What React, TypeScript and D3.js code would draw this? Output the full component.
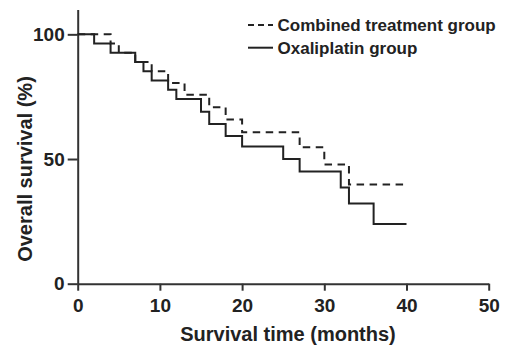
import React, { useEffect, useRef } from 'react';
import * as d3 from 'd3';

// Kaplan-Meier steps
const combinedTimes = [0, 4, 5, 7, 9, 11, 13, 16, 18, 20, 27, 30, 33, 40];
const combinedSurvival = [100, 96.3, 92.6, 88.9, 85.2, 80.5, 75.8, 70.8, 65.8, 60.7, 54.7, 47.8, 39.8, 39.8];

const oxaliTimes = [0, 2, 4, 7, 8, 9, 11, 12, 15, 16, 18, 20, 25, 27, 32, 33, 36, 40];
const oxaliSurvival = [100, 96.3, 92.6, 88.9, 85.2, 81.5, 77.8, 74.1, 69, 64, 59.2, 55, 50, 45, 38.6, 32.2, 23.9, 23.9];

const xTicks = [0, 10, 20, 30, 40, 50];
const yTicks = [0, 50, 100];
const legendLabels = ['Combined treatment group', 'Oxaliplatin group'];

const App: React.FC = () => {
  const svgRef = useRef<SVGSVGElement>(null);

  useEffect(() => {
    if (!svgRef.current) return;
    const svg = d3.select(svgRef.current);
    svg.selectAll('*').remove();

    const ink = '#222';
    const font = '"Liberation Sans", Arial, sans-serif';

    const x = d3.scaleLinear().domain([0, 50]).range([77.7, 488.7]);
    const y = d3.scaleLinear().domain([0, 110]).range([283.7, 9.4]);

    // Axes
    const xAxis = svg.append('g')
      .attr('transform', `translate(0, ${y(0)})`)
      .call(d3.axisBottom(x).tickValues(xTicks).tickSize(7).tickSizeOuter(0).tickPadding(8));

    const yAxis = svg.append('g')
      .attr('transform', `translate(${x(0)}, 0)`)
      .call(d3.axisLeft(y).tickValues(yTicks).tickSize(10).tickSizeOuter(0).tickPadding(3));

    [xAxis, yAxis].forEach(a => {
      a.select('.domain').attr('stroke', '#333').attr('stroke-width', 2);
      a.selectAll('.tick line').attr('stroke', '#333').attr('stroke-width', 2);
      a.selectAll('.tick text')
        .attr('fill', ink)
        .style('font-family', font)
        .style('font-size', '19px')
        .style('font-weight', 'bold');
    });

    // Curves
    const line = d3.line<[number, number]>()
      .x(d => x(d[0]))
      .y(d => y(d[1]))
      .curve(d3.curveStepAfter);

    const oxali = oxaliTimes.map((t, i) => [t, oxaliSurvival[i]] as [number, number]);
    const combined = combinedTimes.map((t, i) => [t, combinedSurvival[i]] as [number, number]);

    svg.append('path')
      .attr('d', line(oxali))
      .attr('fill', 'none')
      .attr('stroke', '#222')
      .attr('stroke-width', 2);

    svg.append('path')
      .attr('d', line(combined))
      .attr('fill', 'none')
      .attr('stroke', '#222')
      .attr('stroke-width', 2)
      .attr('stroke-dasharray', '7.5,5.5');

    // Axis titles
    svg.append('text')
      .attr('x', 288)
      .attr('y', 341)
      .attr('text-anchor', 'middle')
      .attr('fill', ink)
      .style('font-family', font)
      .style('font-size', '20px')
      .style('font-weight', 'bold')
      .text('Survival time (months)');

    svg.append('text')
      .attr('transform', 'translate(31.5, 169) rotate(-90)')
      .attr('text-anchor', 'middle')
      .attr('fill', ink)
      .style('font-family', font)
      .style('font-size', '20px')
      .style('font-weight', 'bold')
      .text('Overall survival (%)');

    // Legend
    const legend = svg.append('g');
    const rows = [25, 47.7];
    legendLabels.forEach((label, i) => {
      legend.append('line')
        .attr('x1', 248)
        .attr('x2', 273)
        .attr('y1', rows[i])
        .attr('y2', rows[i])
        .attr('stroke', '#222')
        .attr('stroke-width', 2)
        .attr('stroke-dasharray', i === 0 ? '6,4' : null);

      legend.append('text')
        .attr('x', 277.5)
        .attr('y', rows[i] + 6)
        .attr('fill', ink)
        .style('font-family', font)
        .style('font-size', '17px')
        .style('font-weight', 'bold')
        .text(label);
    });
  }, []);

  return (
    <svg
      ref={svgRef}
      width={505}
      height={348}
      style={{ position: 'absolute', left: 0, top: 0, background: '#fff' }}
    />
  );
};

export default App;
